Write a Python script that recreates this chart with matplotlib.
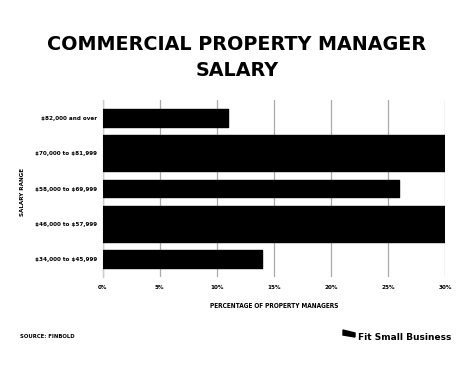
import matplotlib
matplotlib.use("Agg")
import matplotlib.pyplot as plt
from matplotlib.patches import Polygon

plt.rcParams['font.family'] = ['DejaVu Sans']
plt.rcParams['text.parse_math'] = False
plt.rcParams['font.stretch'] = 'condensed'

categories = ["$34,000 to $45,999", "$46,000 to $57,999", "$58,000 to $69,999",
              "$70,000 to $81,999", "$82,000 and over"]
values = [14, 34, 26, 34, 11]
xticks = [0, 5, 10, 15, 20, 25, 30]
xtick_labels = ["0%", "5%", "10%", "15%", "20%", "25%", "30%"]

bar_heights = [0.5, 1.0, 0.5, 1.0, 0.5]

fig = plt.figure(figsize=(4.74, 3.68), dpi=100)
ax = fig.add_axes([102.5/474, 91/368, (445-102.5)/474, 177/368])

ax.barh(range(len(categories)), values, height=bar_heights, color='black',
        edgecolor='black', linewidth=1.0, joinstyle='round', zorder=3)
ax.set_xlim(0, 30)
ax.set_ylim(-0.5, 4.5)
ax.set_xticks(xticks)
ax.set_xticklabels(xtick_labels, fontsize=4.5, fontweight='bold')
ax.set_yticks(range(len(categories)))
ax.set_yticklabels(categories, fontsize=4.5, fontweight='bold')
ax.tick_params(axis='y', length=0, pad=4)
ax.tick_params(axis='x', length=0, pad=6)
ax.xaxis.grid(True, color='#aaaaaa', linewidth=0.9, zorder=0)
for s in ['top', 'right', 'bottom']:
    ax.spines[s].set_visible(False)
ax.spines['left'].set_color('#cccccc')
ax.spines['left'].set_linewidth(1.0)

ax.set_xlabel("PERCENTAGE OF PROPERTY MANAGERS", fontsize=4.7, fontweight='bold', labelpad=9)
fig.text(22/474, 1 - 192/368, "SALARY RANGE", rotation=90, ha='center', va='center',
         fontsize=4.5, fontweight='bold')

fig.text(237/474, 1 - 45/368, "COMMERCIAL PROPERTY MANAGER", ha='center', va='center',
         fontsize=13.8, fontweight='bold', fontstretch='normal')
fig.text(237/474, 1 - 70/368, "SALARY", ha='center', va='center',
         fontsize=13.8, fontweight='bold', fontstretch='normal')

fig.text(20/474, 1 - 337/368, "SOURCE: FINBOLD", ha='left', va='center',
         fontsize=4.2, fontweight='bold')
fig.text(358/474, 1 - 337/368, "Fit Small Business", ha='left', va='center',
         fontsize=6.5, fontweight='bold', fontstretch='normal')
icon = Polygon([[343/474, 1-330/368], [355/474, 1-333/368], [355/474, 1-337/368],
                [343/474, 1-335/368]], closed=True, transform=fig.transFigure,
               facecolor='black', edgecolor='black')
fig.patches.append(icon)

fig.savefig("out.png", dpi=100)
